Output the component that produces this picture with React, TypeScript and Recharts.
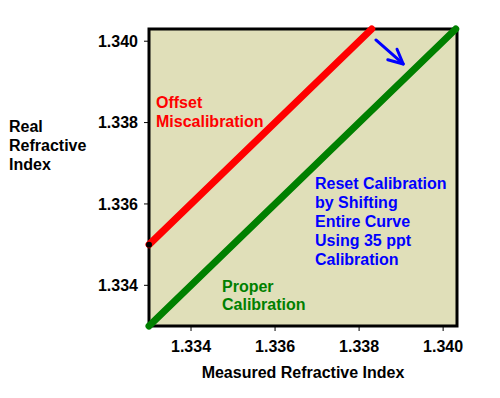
import React from 'react';
import { LineChart, Line, XAxis, YAxis, ReferenceArea, ReferenceLine } from 'recharts';

const properCurve = [
  { x: 1.333, y: 1.333 },
  { x: 1.3403, y: 1.3403 },
];
const offsetCurve = [
  { x: 1.333, y: 1.335 },
  { x: 1.3383, y: 1.3403 },
];
const xTicks = [1.334, 1.336, 1.338, 1.34];
const yTicks = [1.334, 1.336, 1.338, 1.34];
const shiftArrow = [
  { x: 1.3384, y: 1.34003 },
  { x: 1.33905, y: 1.33944 },
];

const FONT = '"Liberation Sans", Arial, sans-serif';
const BG = '#e0dfb9';

function Arrow(props: any) {
  const { x1, y1, x2, y2 } = props;
  const ang = Math.atan2(y2 - y1, x2 - x1);
  const len = 16;
  const spread = (26 * Math.PI) / 180;
  const a1 = ang + Math.PI - spread;
  const a2 = ang + Math.PI + spread;
  return (
    <g stroke="#0000ff" strokeWidth={3} fill="none" strokeLinecap="round" strokeLinejoin="round">
      <line x1={x1} y1={y1} x2={x2} y2={y2} />
      <polyline
        points={`${x2 + len * Math.cos(a1)},${y2 + len * Math.sin(a1)} ${x2},${y2} ${x2 + len * Math.cos(a2)},${y2 + len * Math.sin(a2)}`}
      />
    </g>
  );
}

function StartDot(props: any) {
  const { cx, cy, index } = props;
  if (index !== 0) return <g key={`d${index}`} />;
  return <circle key={`d${index}`} cx={cx} cy={cy} r={3} fill="#000" stroke="none" />;
}

const tickStyle = { fontFamily: FONT, fontSize: 16, fontWeight: 'bold', fill: '#000' };

export default function App() {
  return (
    <div style={{ position: 'absolute', left: 0, top: 0, width: 500, height: 398, background: '#fff' }}>
      <LineChart width={500} height={398} margin={{ top: 29, right: 43, bottom: 0, left: 0 }}>
        <XAxis
          type="number"
          dataKey="x"
          height={72}
          domain={[1.333, 1.34033]}
          ticks={xTicks}
          tickFormatter={(v: number) => v.toFixed(3)}
          tick={tickStyle}
          tickSize={5}
          tickMargin={10}
          tickLine={{ stroke: '#000' }}
          axisLine={false}
        />
        <YAxis
          type="number"
          dataKey="y"
          width={149}
          domain={[1.333, 1.3403]}
          ticks={yTicks}
          tickFormatter={(v: number) => v.toFixed(3)}
          tick={tickStyle}
          tickSize={5}
          tickMargin={6}
          tickLine={{ stroke: '#000' }}
          axisLine={false}
        />
        <ReferenceArea
          x1={1.333}
          x2={1.34033}
          y1={1.333}
          y2={1.3403}
          fill={BG}
          fillOpacity={1}
          stroke="#000"
          strokeWidth={3}
        />
        <Line
          data={properCurve}
          dataKey="y"
          type="linear"
          stroke="#008000"
          strokeWidth={7}
          strokeLinecap="round"
          dot={false}
          isAnimationActive={false}
        />
        <Line
          data={offsetCurve}
          dataKey="y"
          type="linear"
          stroke="#ff0000"
          strokeWidth={7}
          strokeLinecap="round"
          dot={StartDot}
          isAnimationActive={false}
        />
        <ReferenceLine
          segment={shiftArrow}
          ifOverflow="visible"
          shape={Arrow}
        />
      </LineChart>
      <svg
        width={500}
        height={398}
        style={{ position: 'absolute', left: 0, top: 0, pointerEvents: 'none' }}
        fontFamily={FONT}
        fontWeight="bold"
        fontSize={16}
      >
        <text fill="#ff0000">
          <tspan x={156} y={108}>Offset</tspan>
          <tspan x={156} y={127}>Miscalibration</tspan>
        </text>
        <text fill="#0000ff">
          <tspan x={315} y={189}>Reset Calibration</tspan>
          <tspan x={315} y={208}>by Shifting</tspan>
          <tspan x={315} y={227}>Entire Curve</tspan>
          <tspan x={315} y={246}>Using 35 ppt</tspan>
          <tspan x={315} y={265}>Calibration</tspan>
        </text>
        <text fill="#008000">
          <tspan x={222} y={292}>Proper</tspan>
          <tspan x={222} y={310}>Calibration</tspan>
        </text>
        <text fill="#000">
          <tspan x={9} y={132}>Real</tspan>
          <tspan x={9} y={151}>Refractive</tspan>
          <tspan x={9} y={170}>Index</tspan>
        </text>
        <text fill="#000" x={303} y={378} textAnchor="middle">Measured Refractive Index</text>
      </svg>
    </div>
  );
}
